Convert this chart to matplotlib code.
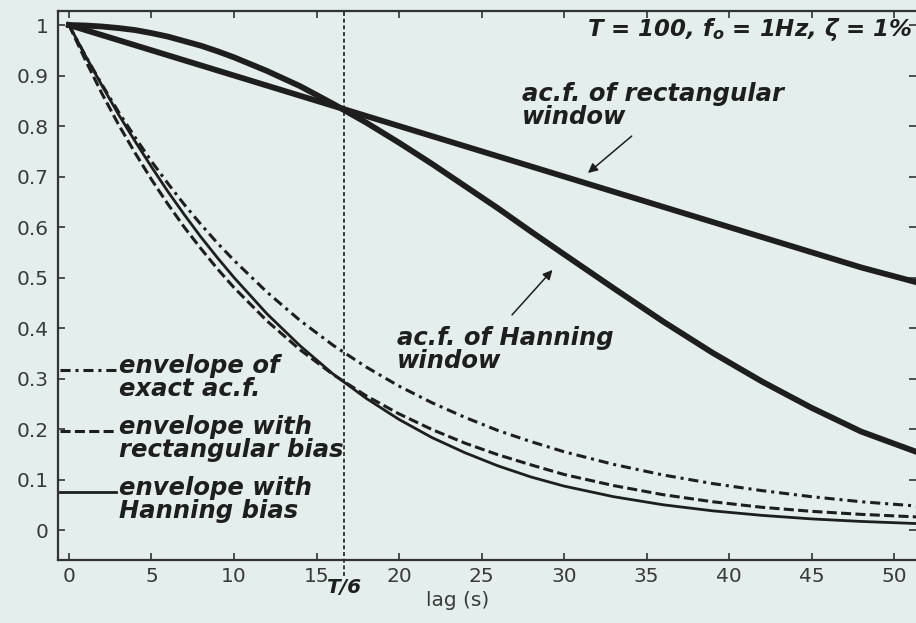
import matplotlib.pyplot as plt
from matplotlib.transforms import blended_transform_factory

# values (lag in s)
lag = [0, 1, 2, 3, 4, 5, 6, 7, 8, 9, 10, 12, 14, 16, 18, 20, 22, 24, 26, 28,
       30, 33, 36, 39, 42, 45, 48, 52]
rect_acf = [1.00, 0.99, 0.98, 0.97, 0.96, 0.95, 0.94, 0.93, 0.92, 0.91, 0.90,
            0.88, 0.86, 0.84, 0.82, 0.80, 0.78, 0.76, 0.74, 0.72, 0.70, 0.67,
            0.64, 0.61, 0.58, 0.55, 0.52, 0.485]
hann_acf = [1.000, 0.999, 0.997, 0.994, 0.990, 0.984, 0.977, 0.968, 0.959,
            0.948, 0.936, 0.909, 0.879, 0.844, 0.807, 0.767, 0.725, 0.681,
            0.637, 0.591, 0.546, 0.479, 0.413, 0.351, 0.294, 0.242, 0.195,
            0.147]
exact_env = [1.000, 0.939, 0.882, 0.828, 0.778, 0.730, 0.686, 0.644, 0.605,
             0.568, 0.534, 0.471, 0.415, 0.366, 0.323, 0.285, 0.252, 0.223,
             0.197, 0.175, 0.155, 0.130, 0.109, 0.092, 0.078, 0.066, 0.056,
             0.046]
rect_env = [1.000, 0.930, 0.864, 0.803, 0.747, 0.694, 0.645, 0.599, 0.557,
            0.517, 0.480, 0.414, 0.357, 0.308, 0.266, 0.230, 0.199, 0.172,
            0.149, 0.129, 0.110, 0.088, 0.070, 0.056, 0.045, 0.037, 0.031,
            0.025]
hann_env = [1.000, 0.939, 0.880, 0.823, 0.770, 0.719, 0.670, 0.624, 0.580,
            0.539, 0.500, 0.428, 0.365, 0.309, 0.261, 0.219, 0.183, 0.153,
            0.127, 0.105, 0.087, 0.066, 0.050, 0.038, 0.029, 0.022, 0.017,
            0.012]

x_ticks = [0, 5, 10, 15, 20, 25, 30, 35, 40, 45, 50]
y_ticks = [0, 0.1, 0.2, 0.3, 0.4, 0.5, 0.6, 0.7, 0.8, 0.9, 1.0]
y_tick_labels = ['0', '0.1', '0.2', '0.3', '0.4', '0.5', '0.6', '0.7', '0.8',
                 '0.9', '1']
T = 100
t_sixth = T / 6

bg = '#e4eeec'
ink = '#1e1e1e'
grey = '#3a3a3a'

plt.rcParams['mathtext.fontset'] = 'custom'
plt.rcParams['mathtext.it'] = 'DejaVu Sans:italic:bold'
plt.rcParams['mathtext.rm'] = 'DejaVu Sans:bold'

fig = plt.figure(figsize=(9.16, 6.23), dpi=100, facecolor=bg)
ax = fig.add_axes([0.0633, 0.1011, 0.9367, 0.8812], facecolor=bg)

ax.plot(lag, rect_acf, color=ink, lw=4.2)
ax.plot(lag, hann_acf, color=ink, lw=4.2)
ax.plot(lag, exact_env, color=ink, lw=2.2, ls=(0, (3.3, 1.6, 1.0, 1.6)),
        label='envelope of\nexact ac.f.')
ax.plot(lag, rect_env, color=ink, lw=2.2, ls=(0, (3.3, 1.4)),
        label='envelope with\nrectangular bias')
ax.plot(lag, hann_env, color=ink, lw=2.0,
        label='envelope with\nHanning bias')
ax.axvline(t_sixth, ymin=-0.03, ymax=1, color=ink, lw=1.2,
           ls=(0, (2.4, 1.6)), clip_on=False)

ax.set_xlim(-0.667, 51.33)
ax.set_ylim(-0.0594, 1.0277)
ax.set_xticks(x_ticks)
ax.set_yticks(y_ticks, y_tick_labels)
ax.tick_params(direction='in', length=5, width=1.2, top=True, right=True,
               colors='#333333', labelcolor=grey, labelsize=14.5, pad=7)
ax.tick_params(axis='x', pad=5)
for side in ['top', 'bottom', 'left']:
    ax.spines[side].set_linewidth(1.6)
    ax.spines[side].set_color('#333333')
ax.spines['right'].set_visible(False)

ax.set_xlabel('lag (s)', fontsize=14.5, color=grey)
ax.xaxis.set_label_coords(0.466, -0.056)

trans = blended_transform_factory(ax.transData, ax.transAxes)
bold_it = dict(fontweight='bold', fontstyle='italic', color=ink)
ax.text(t_sixth, -0.05, 'T/6', transform=trans, ha='center', va='center',
        fontsize=14.5, **bold_it)

ax.text(51.1, 0.979, r'T = 100, f${}_o$ = 1Hz, ζ = 1%', ha='right',
        va='baseline', fontsize=16.5, **bold_it)

# multi-line text: va='baseline' pins the last line
ax.text(27.45, 0.804, 'ac.f. of rectangular\nwindow', ha='left',
        va='baseline', fontsize=17.5, linespacing=0.95, **bold_it)
ax.text(19.9, 0.321, 'ac.f. of Hanning\nwindow', ha='left',
        va='baseline', fontsize=17.5, linespacing=0.95, **bold_it)

arrow = dict(arrowstyle='-|>', color=ink, lw=1.1, mutation_scale=14,
             shrinkA=0, shrinkB=0)
ax.annotate('', xy=(31.45, 0.707), xytext=(34.1, 0.780), arrowprops=arrow)
ax.annotate('', xy=(29.3, 0.515), xytext=(26.85, 0.426), arrowprops=arrow)

leg = ax.legend(loc='upper left', bbox_to_anchor=(0.0023, 0.376),
                frameon=False, handlelength=2.3, handleheight=3.0,
                handletextpad=0.12, labelspacing=0.3, borderaxespad=0,
                borderpad=0,
                prop=dict(size=17.5, weight='bold', style='italic'))
for t in leg.get_texts():
    t.set_color(ink)
    t.set_linespacing(0.95)

fig.savefig('out.png', dpi=100, facecolor=bg)
